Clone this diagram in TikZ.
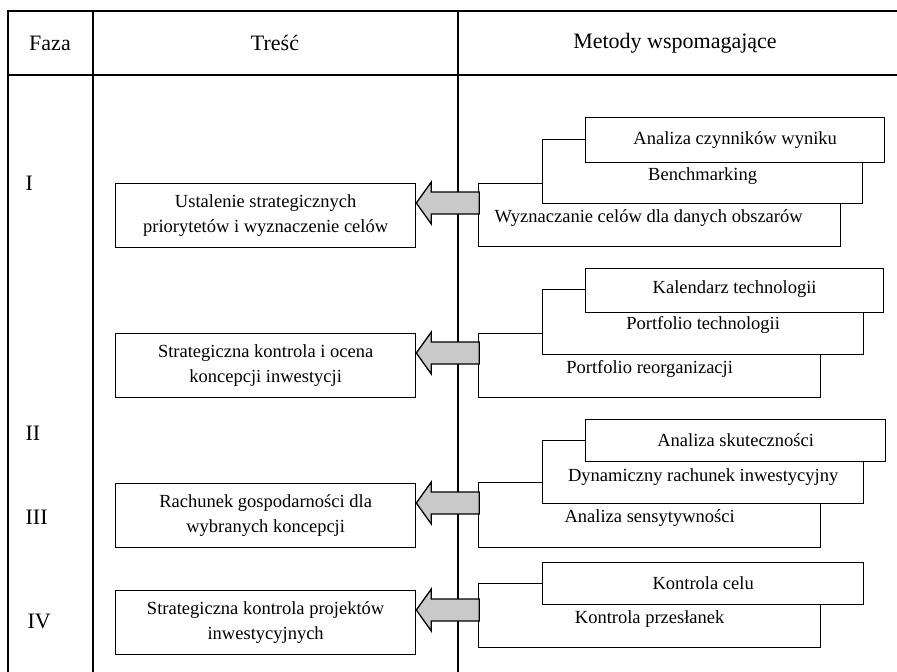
\documentclass[tikz,border=0pt]{standalone}
\usepackage{fontspec}
\setmainfont{Liberation Serif}
\usetikzlibrary{calc}
\newcommand\myBody{\fontsize{18.5}{25}\selectfont}
\newcommand\myHead{\fontsize{22}{26}\selectfont}
\newcommand\dn[2]{\raisebox{-#1pt}[\height][\depth]{#2}}
\begin{document}
\begin{tikzpicture}[x=1pt,y=-1pt,line width=1.3pt,
  lbox/.style={draw, fill=white, minimum width=300pt, minimum height=64pt, align=center, inner sep=0pt, anchor=north west, font=\myBody},
  rbox/.style={draw, fill=white, anchor=north west, inner sep=0pt, font=\myBody},
  hdr/.style={font=\myHead, inner sep=0pt},
  garrow/.style={draw, fill=gray!42, line width=1.3pt, line join=miter}]
\useasboundingbox (0,0) rectangle (897,672);
\fill[white] (0,0) rectangle (897,672);
% table grid
\draw (897,11) -- (8,11) -- (8,672);
\draw (8,75) -- (897,75);
\draw (93,11) -- (93,672);
\draw (458,11) -- (458,672);
% headers
\node[hdr] (hfaza) at (50,43) {Faza};
\node[hdr] (htresc) at (275,43) {Treść};
\node[hdr] (hmet) at (675,43) {Metody wspomagające};
% phase labels
\node[hdr, anchor=west] (p1) at (25,183) {I};
\node[hdr, anchor=west] (p2) at (25,433) {II};
\node[hdr, anchor=west] (p3) at (25,517) {III};
\node[hdr, anchor=west] (p4) at (27,621) {IV};
% left boxes
\node[lbox] (L1) at (115,183) {Ustalenie strategicznych\\priorytetów i wyznaczenie celów};
\node[lbox] (L2) at (115,333) {Strategiczna kontrola i ocena\\koncepcji inwestycji};
\node[lbox] (L3) at (115,483) {Rachunek gospodarności dla\\wybranych koncepcji};
\node[lbox] (L4) at (115,590) {Strategiczna kontrola projektów\\inwestycyjnych};
% stack I
\node[rbox, minimum width=362pt, minimum height=63pt] (R13) at (478,183) {\hspace*{-22pt}\dn{3}{Wyznaczanie celów dla danych obszarów}};
\node[rbox, minimum width=320pt, minimum height=64pt] (R12) at (542,139) {\dn{4}{Benchmarking}};
\node[rbox, minimum width=299pt, minimum height=45pt] (R11) at (585,117) {Analiza czynników wyniku};
% stack II
\node[rbox, minimum width=342pt, minimum height=64pt] (R23) at (478,333) {\dn{3}{Portfolio reorganizacji}};
\node[rbox, minimum width=321pt, minimum height=65pt] (R22) at (542,289) {\dn{3}{Portfolio technologii}};
\node[rbox, minimum width=298pt, minimum height=44pt] (R21) at (585,268) {\dn{-2}{Kalendarz technologii}};
% stack III
\node[rbox, minimum width=342pt, minimum height=65pt] (R33) at (478,482) {\dn{3}{Analiza sensytywności}};
\node[rbox, minimum width=321pt, minimum height=63pt] (R32) at (542,440) {\dn{5}{Dynamiczny rachunek inwestycyjny}};
\node[rbox, minimum width=300pt, minimum height=42pt] (R31) at (585,419) {Analiza skuteczności};
% stack IV
\node[rbox, minimum width=342pt, minimum height=64pt] (R42) at (478,583) {\dn{3}{Kontrola przesłanek}};
\node[rbox, minimum width=321pt, minimum height=42pt] (R41) at (542,562) {Kontrola celu};
% arrows
\foreach \L in {L1,L2,L3,L4}{
  \draw[garrow] ($(\L.north east)+(0,20)$) -- ++(15,-21) -- ++(0,10) -- ++(48,0) -- ++(0,22) -- ++(-48,0) -- ++(0,10) -- cycle;
}
\end{tikzpicture}
\end{document}
